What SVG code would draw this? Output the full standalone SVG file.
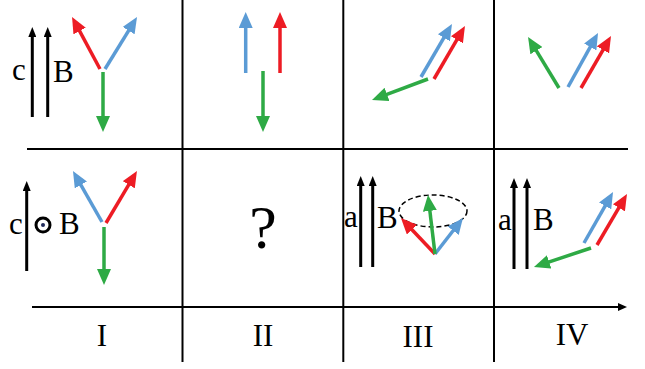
<svg xmlns="http://www.w3.org/2000/svg" width="645" height="369" viewBox="0 0 645 369">
<style>
.grid{stroke:#000;stroke-width:2;fill:none}
.k{stroke:#000;stroke-width:3;fill:none;marker-end:url(#mk)}
.r{stroke:#ED1C24;stroke-width:3.5;fill:none;marker-end:url(#mr)}
.b{stroke:#5B9BD5;stroke-width:3.5;fill:none;marker-end:url(#mb)}
.g{stroke:#2EAA45;stroke-width:3.5;fill:none;marker-end:url(#mg)}
text{font-family:"Liberation Serif","Times New Roman",serif;fill:#000}
.lbl{font-size:31px}
.num{font-size:31px;text-anchor:middle}
</style>
<defs>
<marker id="mk" markerUnits="userSpaceOnUse" markerWidth="10" markerHeight="8" viewBox="0 0 10 8" refX="2" refY="4" orient="auto"><path d="M0,0 L10,4 L0,8 z" fill="#000"/></marker>
<marker id="mr" markerUnits="userSpaceOnUse" markerWidth="16" markerHeight="14" viewBox="0 0 16 14" refX="3" refY="7" orient="auto"><path d="M0,0 L16,7 L0,14 z" fill="#ED1C24"/></marker>
<marker id="mb" markerUnits="userSpaceOnUse" markerWidth="16" markerHeight="14" viewBox="0 0 16 14" refX="3" refY="7" orient="auto"><path d="M0,0 L16,7 L0,14 z" fill="#5B9BD5"/></marker>
<marker id="mg" markerUnits="userSpaceOnUse" markerWidth="16" markerHeight="14" viewBox="0 0 16 14" refX="3" refY="7" orient="auto"><path d="M0,0 L16,7 L0,14 z" fill="#2EAA45"/></marker>
<marker id="ma" markerUnits="userSpaceOnUse" markerWidth="9" markerHeight="8" viewBox="0 0 9 8" refX="2" refY="4" orient="auto"><path d="M0,0 L9,4 L0,8 z" fill="#000"/></marker>
</defs>
<rect width="645" height="369" fill="#fff"/>

<g id="grid">
<line class="grid" x1="182.5" y1="0" x2="182.5" y2="362"/>
<line class="grid" x1="343.3" y1="0" x2="343.3" y2="362"/>
<line class="grid" x1="494" y1="0" x2="494" y2="362"/>
<line class="grid" x1="27" y1="149" x2="628" y2="149"/>
<line class="grid" x1="32" y1="307" x2="620" y2="307" marker-end="url(#ma)"/>
</g>

<g id="labels">
<text class="num" x="102" y="346">I</text>
<text class="num" x="263" y="346">II</text>
<text class="num" x="418" y="347">III</text>
<text class="num" x="572" y="345">IV</text>
</g>

<g id="panel-I-top">
<line class="k" x1="32.3" y1="117" x2="32.3" y2="35"/>
<line class="k" x1="47.7" y1="117" x2="47.7" y2="35"/>
<text class="lbl" x="12" y="80">c</text>
<text class="lbl" x="53" y="82">B</text>
<line class="r" x1="100" y1="69" x2="78.2" y2="28.4"/>
<line class="b" x1="105" y1="69" x2="130.2" y2="28.1"/>
<line class="g" x1="103" y1="72" x2="103" y2="119"/>
</g>

<g id="panel-II-top">
<line class="b" x1="245.7" y1="73" x2="245.7" y2="25"/>
<line class="r" x1="280" y1="73" x2="280" y2="25"/>
<line class="g" x1="263" y1="71" x2="263" y2="119"/>
</g>

<g id="panel-III-top">
<line class="b" x1="421" y1="77" x2="445.4" y2="35.2"/>
<line class="r" x1="434" y1="79" x2="458.4" y2="37.2"/>
<line class="g" x1="428" y1="79" x2="384.2" y2="95.4"/>
</g>

<g id="panel-IV-top">
<line class="g" x1="559" y1="88" x2="534.8" y2="48.1"/>
<line class="b" x1="568" y1="87" x2="591.7" y2="44.4"/>
<line class="r" x1="581" y1="88" x2="604.5" y2="47.3"/>
</g>

<g id="panel-I-bottom">
<line class="k" x1="26.7" y1="271" x2="26.7" y2="189"/>
<text class="lbl" x="9" y="234">c</text>
<circle cx="43" cy="225" r="7" fill="none" stroke="#000" stroke-width="3"/>
<circle cx="43" cy="225" r="2" fill="#1F2A5A"/>
<text class="lbl" x="59" y="234">B</text>
<line class="b" x1="102" y1="222" x2="79.4" y2="182.3"/>
<line class="r" x1="106" y1="223" x2="130.3" y2="182.2"/>
<line class="g" x1="104" y1="227" x2="104" y2="272"/>
</g>

<g id="panel-II-bottom">
<text x="263" y="248" font-size="62" text-anchor="middle">?</text>
</g>

<g id="panel-III-bottom">
<line class="k" x1="360.7" y1="267" x2="360.7" y2="184"/>
<line class="k" x1="372.7" y1="267" x2="372.7" y2="184"/>
<text class="lbl" x="344" y="227">a</text>
<text class="lbl" x="377" y="228">B</text>
<ellipse cx="433" cy="211" rx="34" ry="16" fill="none" stroke="#000" stroke-width="1.5" stroke-dasharray="5,3"/>
<line class="r" x1="435" y1="254" x2="409.9" y2="227.5"/>
<line class="b" x1="435" y1="254" x2="455" y2="228.3"/>
<line class="g" x1="435" y1="254" x2="429.5" y2="207.9"/>
</g>

<g id="panel-IV-bottom">
<line class="k" x1="514" y1="269" x2="514" y2="186"/>
<line class="k" x1="527" y1="269" x2="527" y2="186"/>
<text class="lbl" x="498" y="230">a</text>
<text class="lbl" x="533" y="230">B</text>
<line class="b" x1="584" y1="243" x2="606.6" y2="203.3"/>
<line class="r" x1="597" y1="245" x2="620.4" y2="205.2"/>
<line class="g" x1="591" y1="248" x2="546.3" y2="262.9"/>
</g>
</svg>
